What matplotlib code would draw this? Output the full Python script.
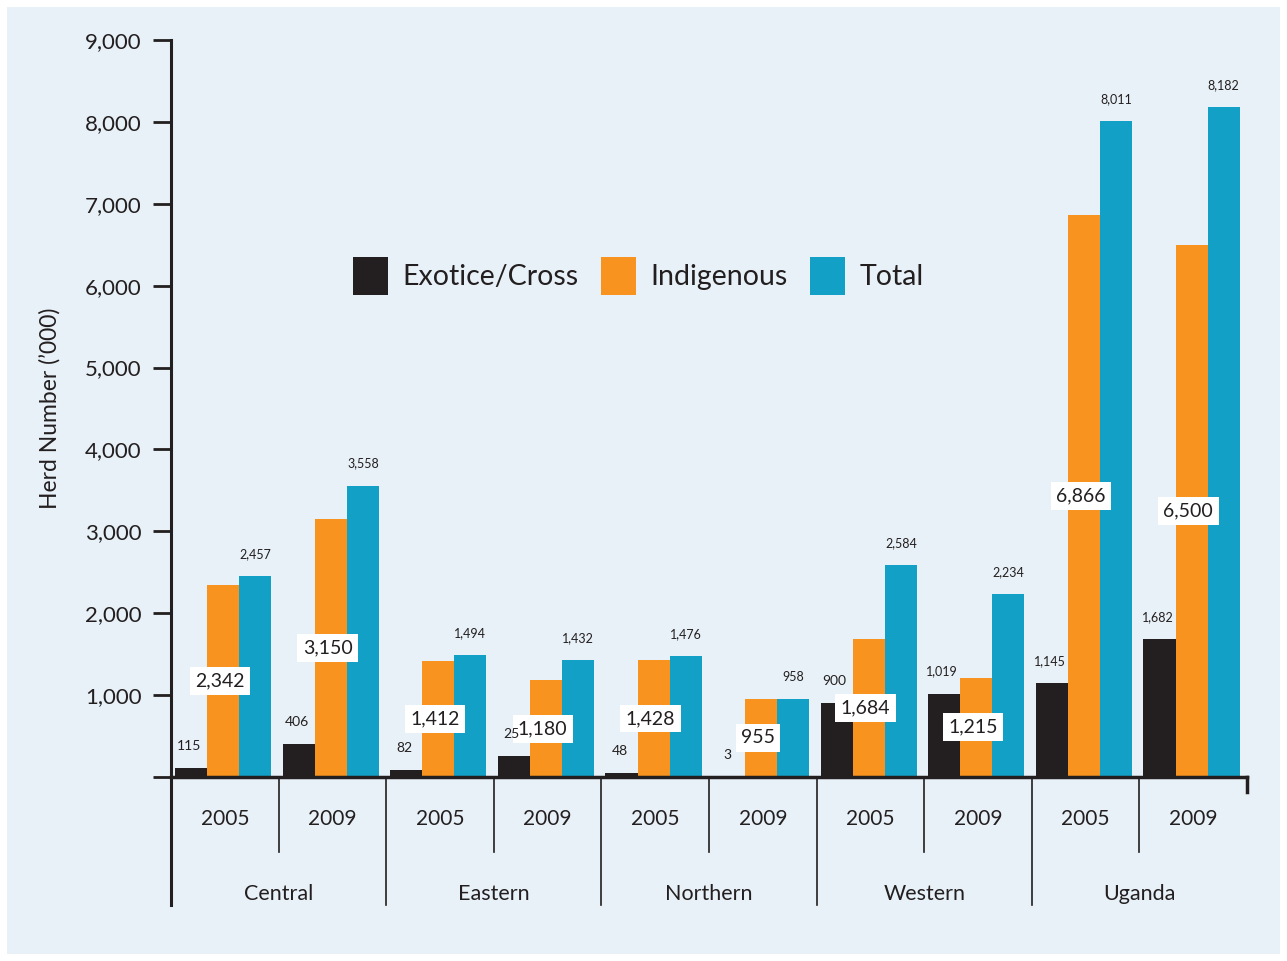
import matplotlib.pyplot as plt
from matplotlib.patches import Rectangle, Patch
import matplotlib.transforms as mtransforms

# Данные
regions = ["Central", "Eastern", "Northern", "Western", "Uganda"]
years = ["2005", "2009"]
exotic = [115, 406, 82, 255, 48, 3, 900, 1019, 1145, 1682]
exotic_labels = ["115", "406", "82", "25", "48", "3", "900", "1,019", "1,145", "1,682"]
indigenous = [2342, 3150, 1412, 1180, 1428, 955, 1684, 1215, 6866, 6500]
total = [2457, 3558, 1494, 1432, 1476, 958, 2584, 2234, 8011, 8182]
series_names = ["Exotice/Cross", "Indigenous", "Total"]

BG = "#E8F1F7"
DARK = "#231F20"
ORANGE = "#F7931E"
TEAL = "#13A0C6"

plt.rcParams['font.family'] = ['Lato', 'DejaVu Sans']

W, H = 1287, 961
fig = plt.figure(figsize=(W / 100, H / 100), dpi=100, facecolor="white")
fig.patches.append(Rectangle((7 / W, 7 / H), (1280 - 7) / W, (954 - 7) / H,
                             transform=fig.transFigure, facecolor=BG,
                             edgecolor="none", zorder=-10))

# Оси
x0, x1, y0, y1 = 171, 1247, 777, 40
ax = fig.add_axes([x0 / W, 1 - y0 / H, (x1 - x0) / W, (y0 - y1) / H])
ax.set_facecolor("none")

n = len(exotic)
xs = list(range(n))
bw = 0.298
offs = [-0.313, -0.015, 0.283]

ax.bar([x + offs[0] for x in xs], exotic, width=bw, color=DARK, zorder=2)
ax.bar([x + offs[1] for x in xs], indigenous, width=bw, color=ORANGE, zorder=2)
ax.bar([x + offs[2] for x in xs], total, width=bw, color=TEAL, zorder=2)

# Подписи значений
for i in xs:
    ax.annotate(exotic_labels[i], (i + offs[0], exotic[i]), xytext=(-2, 22),
                textcoords="offset pixels", ha="center", va="center",
                fontsize=10 if exotic[i] < 1000 else 9, color=DARK, zorder=6)
    ax.annotate(f"{total[i]:,}", (i + offs[2], total[i]), xytext=(0, 22),
                textcoords="offset pixels", ha="center", va="center",
                fontsize=9, color=DARK, zorder=4)
    ax.text(i + offs[1] - 0.03, indigenous[i] / 2, f"{indigenous[i]:,}",
            ha="center", va="center", fontsize=14, color=DARK, zorder=5,
            bbox=dict(boxstyle="square,pad=0.28", fc="white", ec="none"))

ax.set_xlim(-0.5, n - 0.5)
ax.set_ylim(0, 9000)
ax.set_yticks(range(0, 9001, 1000))
ax.set_yticklabels([""] + [f"{v:,}" for v in range(1000, 9001, 1000)])
ax.tick_params(axis="y", length=13, width=2, color=DARK, labelsize=16,
               labelcolor=DARK, pad=8)
ax.set_xticks([])
for s in ["top", "right"]:
    ax.spines[s].set_visible(False)
ax.spines["left"].set_linewidth(2.2)
ax.spines["bottom"].set_linewidth(2.5)
ax.spines["left"].set_color(DARK)
ax.spines["bottom"].set_color(DARK)

ax.set_ylabel("Herd Number (’000)", fontsize=16.5, color=DARK)
ax.yaxis.set_label_coords((61 - x0) / (x1 - x0), 0.5)

# Нижние подписи и разделители
tr = mtransforms.blended_transform_factory(ax.transData, ax.transAxes)
ph = y0 - y1
for i in xs:
    ax.text(i, (y0 - 819) / ph, years[i % 2], transform=tr, ha="center",
            va="center", fontsize=15, color=DARK)
for k, r in enumerate(regions):
    ax.text(2 * k + 0.5, (y0 - 894) / ph, r, transform=tr, ha="center",
            va="center", fontsize=15.5, color=DARK)
for k in range(len(regions)):
    ax.plot([2 * k - 0.5] * 2, [0, (y0 - 905) / ph], transform=tr,
            color=DARK, lw=2.2 if k == 0 else 1.2, clip_on=False)
    ax.plot([2 * k + 0.5] * 2, [0, (y0 - 852) / ph], transform=tr,
            color=DARK, lw=1.2, clip_on=False)
ax.plot([n - 0.5] * 2, [0, (y0 - 792) / ph], transform=tr, color=DARK,
        lw=2.5, clip_on=False)

# Легенда
handles = [Patch(facecolor=c, edgecolor="none") for c in (DARK, ORANGE, TEAL)]
fig.legend(handles, series_names, loc="center left",
           bbox_to_anchor=(353 / W, 1 - 276 / H), ncol=3, frameon=False,
           fontsize=20.5, handlelength=1.23, handleheight=1.72,
           handletextpad=0.5, columnspacing=0.8, borderpad=0,
           borderaxespad=0, labelcolor=DARK)

fig.savefig("out.png", dpi=100, facecolor="white")
